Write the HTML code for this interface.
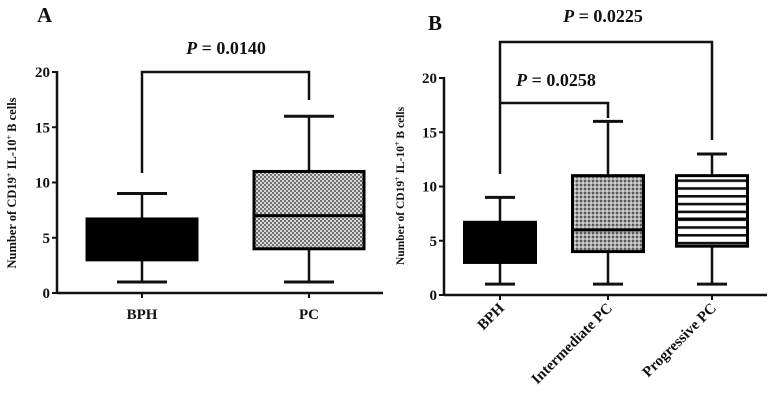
<!DOCTYPE html>
<html><head><meta charset="utf-8"><style>
html,body{margin:0;padding:0;background:#fff}
svg{display:block}
text{font-family:"Liberation Serif",serif;font-weight:bold;fill:#111}
</style></head><body>
<svg id="chart" width="771" height="402" viewBox="0 0 771 402" xmlns="http://www.w3.org/2000/svg">
<defs>
<pattern id="hatchA" width="4" height="4" patternUnits="userSpaceOnUse">
<rect width="4" height="4" fill="#d8d8d8"/><rect width="2" height="2" fill="#707070"/><rect x="2" y="2" width="2" height="2" fill="#707070"/>
</pattern>
<pattern id="dotB" width="4" height="4" patternUnits="userSpaceOnUse">
<rect width="4" height="4" fill="#a8a8a8"/><rect width="2" height="2" fill="#5a5a5a"/><rect x="2" y="2" width="2" height="2" fill="#d0d0d0"/>
</pattern>
<pattern id="stripeB" width="8" height="7.8" patternUnits="userSpaceOnUse">
<rect width="8" height="7.8" fill="#fff"/><rect width="8" height="2.6" fill="#111"/>
</pattern>
</defs>
<text x="37" y="22" font-size="21">A</text>
<text x="428" y="30" font-size="21">B</text>
<g id="pa"></g>
<g id="pb"></g>
</svg>
<script>
// Panel A data
const catsA = ["BPH", "PC"];
const minA = [1, 1];
const q1A = [3, 4];
const medA = [4.5, 7];
const q3A = [6.7, 11];
const maxA = [9, 16];
// Panel B data
const catsB = ["BPH", "Intermediate PC", "Progressive PC"];
const minB = [1, 1, 1];
const q1B = [3, 4, 4.5];
const medB = [4.5, 6, 7];
const q3B = [6.7, 11, 11];
const maxB = [9, 16, 13];
const yTicks = [0, 5, 10, 15, 20];
const pA = "= 0.0140";
const pB1 = "= 0.0225";
const pB2 = "= 0.0258";

const NS = "http://www.w3.org/2000/svg";
function mk(parent, tag, attrs){const e=document.createElementNS(NS,tag);for(const k in attrs)e.setAttribute(k,attrs[k]);parent.appendChild(e);return e;}

function panel(g, o){
  const y = v => o.y0 + (o.y20 - o.y0) * v / 20;
  const x = i => o.xc[i];
  let a = mk(g,'line',{x1:o.ax,y1:y(20)-1,x2:o.ax,y2:y(0)+1,stroke:'#111','stroke-width':2.5});
  
  
  a = mk(g,'line',{x1:o.ax,y1:y(0),x2:o.axEnd,y2:y(0),stroke:'#111','stroke-width':2.5});
  
  
  yTicks.forEach(t=>{
    const l = mk(g,'line',{x1:o.ax-5,y1:y(t),x2:o.ax,y2:y(t),stroke:'#111','stroke-width':2});
    
    
    const tx = mk(g,'text',{x:o.ax-7,y:y(t)+5,'font-size':15,'text-anchor':'end'});
    tx.textContent = t;
    
    
  });
  const yl = mk(g,'text',{x:0,y:0,'font-size':o.ylfs,'text-anchor':'middle',transform:`translate(${o.ylx},${o.yly}) rotate(-90)`});
  yl.innerHTML = 'Number of CD19<tspan baseline-shift="super" font-size="8">+</tspan> IL-10<tspan baseline-shift="super" font-size="8">+</tspan> B cells';
  
  
  o.cats.forEach((c,i)=>{
    const cx = x(i), hw = o.bw/2;
    const tk = mk(g,'line',{x1:cx,y1:y(0),x2:cx,y2:y(0)+5,stroke:'#111','stroke-width':2});
    
    
    const w = mk(g,'line',{x1:cx,y1:y(o.max[i]),x2:cx,y2:y(o.min[i]),stroke:'#111','stroke-width':2.5});
    
    
    [o.max[i],o.min[i]].forEach(v=>{
      const cp = mk(g,'line',{x1:cx-o.cw,y1:y(v),x2:cx+o.cw,y2:y(v),stroke:'#111','stroke-width':3});
      
      
    });
    const b = mk(g,'rect',{x:cx-hw,y:y(o.q3[i]),width:o.bw,height:y(o.q1[i])-y(o.q3[i]),fill:o.fills[i],stroke:'#000','stroke-width':3});
    
    
    const m = mk(g,'line',{x1:cx-hw,y1:y(o.med[i]),x2:cx+hw,y2:y(o.med[i]),stroke:'#000','stroke-width':3});
    
    
    let lb;
    if(o.rot){
      lb = mk(g,'text',{x:0,y:0,'font-size':15,'text-anchor':'end',transform:`translate(${cx+5},${y(0)+14}) rotate(-45)`});
    } else {
      lb = mk(g,'text',{x:cx,y:y(0)+26,'font-size':15,'text-anchor':'middle'});
    }
    lb.textContent = c;
    
    
  });
  o.brackets.forEach(br=>{
    const p = mk(g,'polyline',{points:`${x(br.i)},${br.l} ${x(br.i)},${br.top} ${x(br.j)},${br.top} ${x(br.j)},${br.r}`,fill:'none',stroke:'#111','stroke-width':2.5});
    
    
    const t = mk(g,'text',{x:br.tx,y:br.ty,'font-size':18,'text-anchor':'middle'});
    t.innerHTML = '<tspan font-style="italic">P</tspan> '+br.txt;
    
    
  });
}

panel(document.getElementById('pa'),{
  ax:57, axEnd:383, y0:293, y20:72, xc:[142,309], bw:110, cw:25,
  cats:catsA, min:minA, q1:q1A, med:medA, q3:q3A, max:maxA,
  fills:['#000','url(#hatchA)'], rot:false, ylx:16, yly:183, ylfs:12.5,
  brackets:[{i:0,j:1,top:72,l:173,r:100,tx:226,ty:54,txt:pA}]
});
panel(document.getElementById('pb'),{
  ax:444, axEnd:767, y0:295, y20:78, xc:[500,608,712], bw:71, cw:15,
  cats:catsB, min:minB, q1:q1B, med:medB, q3:q3B, max:maxB,
  fills:['#000','url(#dotB)','url(#stripeB)'], rot:true, ylx:404, yly:186, ylfs:11.5,
  brackets:[{i:0,j:2,top:42,l:174,r:140,tx:603,ty:22,txt:pB1},
            {i:0,j:1,top:103,l:103,r:118,tx:556,ty:86,txt:pB2}]
});
</script>
</body></html>
